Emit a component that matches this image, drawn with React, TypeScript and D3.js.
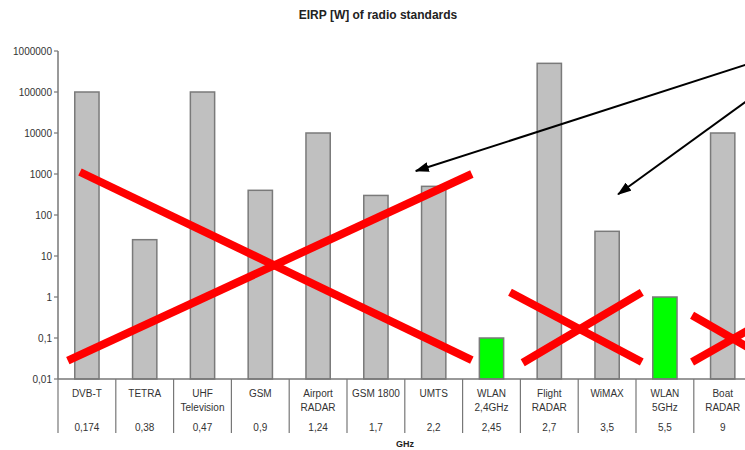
import React from "react";
import * as d3 from "d3";

const categories: string[][] = [
  ["DVB-T"], ["TETRA"], ["UHF", "Television"], ["GSM"], ["Airport", "RADAR"], ["GSM 1800"],
  ["UMTS"], ["WLAN", "2,4GHz"], ["Flight", "RADAR"], ["WiMAX"], ["WLAN", "5GHz"], ["Boat", "RADAR"],
];
const frequencies: string[] = ["0,174", "0,38", "0,47", "0,9", "1,24", "1,7", "2,2", "2,45", "2,7", "3,5", "5,5", "9"];
const eirp: number[] = [100000, 25, 100000, 400, 10000, 300, 500, 0.1, 500000, 40, 1, 10000];
const highlighted: boolean[] = [false, false, false, false, false, false, false, true, false, false, true, false];
const yTicks: number[] = [0.01, 0.1, 1, 10, 100, 1000, 10000, 100000, 1000000];

// annotation strokes, in (category index position, W value)
const crossLines: [number, number, number, number][] = [
  [0.38, 1120, 7.16, 0.029],
  [0.17, 0.028, 7.16, 1000],
  [7.82, 1.3, 10.1, 0.026],
  [8.04, 0.025, 10.1, 1.3],
  [10.97, 0.36, 12.4, 0.025],
  [10.97, 0.026, 12.4, 0.36],
];
const arrows: [number, number, number, number][] = [
  [12.3, 700000, 6.19, 1180],
  [12.3, 150000, 9.69, 320],
];

export default function App() {
  const W = 745, H = 450;
  const left = 58, top = 51, bottom = 379, step = 57.8;
  const n = categories.length;
  const x = d3.scaleBand<number>().domain(d3.range(n)).range([left, left + n * step]).paddingInner(0).paddingOuter(0);
  const xi = d3.scaleLinear().domain([0, n]).range([left, left + n * step]);
  const y = d3.scaleLog().domain([0.01, 1e6]).range([bottom, top]);
  const bw = x.bandwidth() * 0.42;
  const font = "'Liberation Sans', Arial, sans-serif";
  const fmt = (v: number) => String(v).replace(".", ",");

  return (
    <svg width={W} height={H} style={{ position: "absolute", left: 0, top: 0, background: "#fff" }} fontFamily={font}>
      <defs>
        <marker id="ah" viewBox="0 0 14 10" refX="13" refY="5" markerWidth="14" markerHeight="10" markerUnits="userSpaceOnUse" orient="auto">
          <path d="M0,0 L14,5 L0,10 Z" fill="#000" />
        </marker>
      </defs>
      <text x={378} y={19} textAnchor="middle" fontSize={12} fontWeight="bold" fill="#222">EIRP [W] of radio standards</text>

      {/* y axis */}
      <line x1={left} x2={left} y1={y(1e6)} y2={bottom} stroke="#777" strokeWidth={1.5} />
      {yTicks.map((t) => (
        <g key={t}>
          <line x1={left - 4} x2={left} y1={y(t)} y2={y(t)} stroke="#777" strokeWidth={1.2} />
          <text x={left - 6} y={y(t)} dy="0.35em" textAnchor="end" fontSize={10} fill="#333">{fmt(t)}</text>
        </g>
      ))}

      {/* bars */}
      {eirp.map((v, i) => (
        <rect key={i} x={x(i)! + (x.bandwidth() - bw) / 2} y={y(v)} width={bw} height={bottom - y(v)}
          fill={highlighted[i] ? "#00ff00" : "#c0c0c0"} stroke="#7a7a7a" strokeWidth={1.5} />
      ))}

      {/* x axis & table */}
      <line x1={left} x2={left + n * step} y1={bottom} y2={bottom} stroke="#777" strokeWidth={1.5} />
      {d3.range(n + 1).map((i) => (
        <line key={i} x1={xi(i)} x2={xi(i)} y1={bottom} y2={433} stroke="#777" strokeWidth={1.2} />
      ))}
      {categories.map((lines, i) => (
        <g key={i}>
          {lines.map((l, j) => (
            <text key={j} x={x(i)! + x.bandwidth() / 2} y={397 + j * 14} textAnchor="middle" fontSize={10} fill="#333">{l}</text>
          ))}
          <text x={x(i)! + x.bandwidth() / 2} y={431} textAnchor="middle" fontSize={10} fill="#333">{frequencies[i]}</text>
        </g>
      ))}
      <text x={405} y={447} textAnchor="middle" fontSize={9} fontWeight="bold" fill="#222">GHz</text>

      {/* red crosses */}
      {crossLines.map((c, i) => (
        <line key={i} x1={xi(c[0])} y1={y(c[1])} x2={xi(c[2])} y2={y(c[3])} stroke="#ff0000" strokeWidth={8} />
      ))}
      {/* arrows */}
      {arrows.map((a, i) => (
        <line key={i} x1={xi(a[0])} y1={y(a[1])} x2={xi(a[2])} y2={y(a[3])} stroke="#000" strokeWidth={2} markerEnd="url(#ah)" />
      ))}
    </svg>
  );
}
